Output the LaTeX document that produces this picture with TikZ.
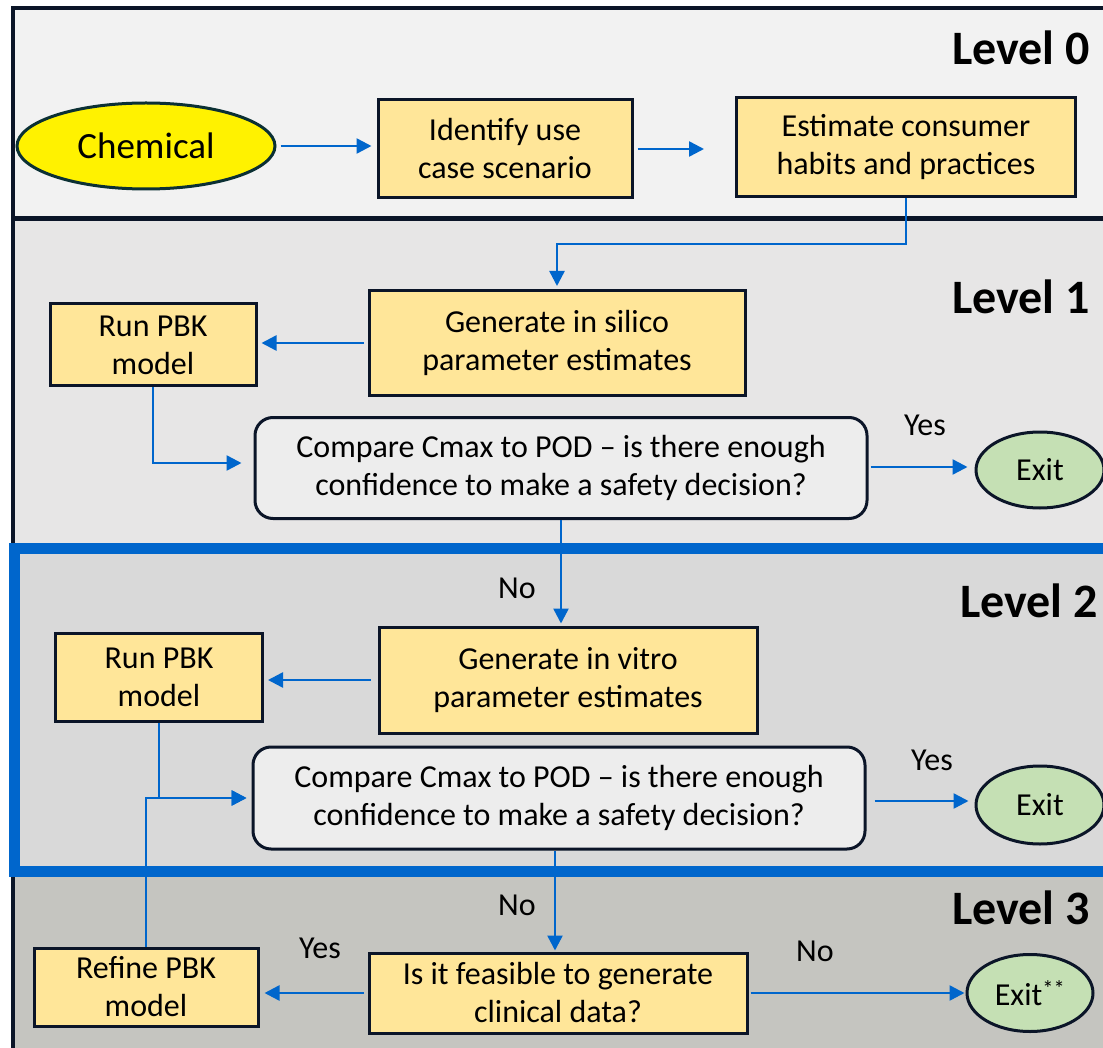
\documentclass[tikz,border=0pt]{standalone}
\usepackage{fontspec}
\setmainfont{Carlito}
\usetikzlibrary{arrows.meta,shapes.geometric}
\definecolor{boxfill}{HTML}{FFE699}
\definecolor{edgecol}{HTML}{0B1528}
\definecolor{flow}{HTML}{0066CC}
\definecolor{bandA}{HTML}{F2F2F2}
\definecolor{bandB}{HTML}{E7E6E6}
\definecolor{bandC}{HTML}{D9D9D9}
\definecolor{bandD}{HTML}{C5C5C0}
\definecolor{cmpfill}{HTML}{EDEDED}
\definecolor{exitfill}{HTML}{C5E0B4}
\definecolor{chemedge}{HTML}{0B3034}
\begin{document}
\begin{tikzpicture}[x=1pt,y=-1pt,
  txt/.style={font=\fontsize{32}{38}\selectfont, text=black},
  box/.style={txt, draw=edgecol, line width=3pt, fill=boxfill, align=center, inner sep=0pt},
  decision/.style={box, fill=cmpfill, rounded corners=18pt},
  exitnode/.style={txt, ellipse, draw=edgecol, line width=3pt, fill=exitfill, inner sep=0pt},
  flowarrow/.style={draw=flow, line width=2.5pt, -{Triangle[length=15pt,width=15pt]}},
  lbl/.style={txt, inner sep=0pt},
  levellbl/.style={font=\fontsize{48}{52}\selectfont\bfseries, anchor=east, inner sep=0pt}
]
\useasboundingbox (0,0) rectangle (1103,1048);
\fill[white] (0,0) rectangle (1103,1048);
% bands
\fill[bandA] (13,8) rectangle (1110,219);
\fill[bandB] (13,219) rectangle (1110,548);
\fill[bandC] (14,548) rectangle (1110,871);
\fill[bandD] (13,871) rectangle (1110,1050);
\draw[edgecol, line width=4pt] (1115,8) -- (13,8) -- (13,1055);
\draw[edgecol, line width=5pt] (11,219) -- (1115,219);
\draw[flow, line width=11pt] (1120,548) -- (14,548) -- (14,871) -- (1120,871);

% level labels
\node[levellbl] (lv0) at (1090,48) {Level 0};
\node[levellbl] (lv1) at (1090,297) {Level 1};
\node[levellbl] (lv2) at (1098,601) {Level 2};
\node[levellbl] (lv3) at (1090,908) {Level 3};

% level 0
\node[txt, ellipse, draw=chemedge, line width=3pt, fill=yellow, inner sep=0pt,
      minimum width=258pt, minimum height=86pt, font=\fontsize{37}{40}\selectfont] (chem) at (146,146) {Chemical};
\node[box, minimum width=254pt, minimum height=98pt] (ident) at (505,149) {Identify use\\case scenario};
\node[box, minimum width=339pt, minimum height=99pt] (est) at (906,147) {Estimate consumer\\habits and practices};

% level 1
\node[box, minimum width=376pt, minimum height=105pt] (gensil) at (557,343) {Generate in silico\\parameter estimates};
\node[box, minimum width=206pt, minimum height=82pt] (run1) at (153,345) {Run PBK\\model};
\node[decision, minimum width=612pt, minimum height=101pt] (cmp1) at (561,468) {Compare Cmax to POD – is there enough\\confidence to make a safety decision?};
\node[exitnode, minimum width=128pt, minimum height=76pt] (exit1) at (1040,470) {Exit};
\node[lbl] (yes1) at (925,425) {Yes};

% level 2
\node[lbl] (no1) at (517,588) {No};
\node[box, minimum width=378pt, minimum height=106pt] (genvit) at (568,680) {Generate in vitro\\parameter estimates};
\node[box, minimum width=207pt, minimum height=88pt] (run2) at (159,677) {Run PBK\\model};
\node[decision, minimum width=612pt, minimum height=102pt] (cmp2) at (559,798) {Compare Cmax to POD – is there enough\\confidence to make a safety decision?};
\node[exitnode, minimum width=128pt, minimum height=78pt] (exit2) at (1040,805) {Exit};
\node[lbl] (yes2) at (932,760) {Yes};

% level 3
\node[lbl] (no2) at (517,905) {No};
\node[box, minimum width=378pt, minimum height=80pt] (feas) at (558,993) {Is it feasible to generate\\clinical data?};
\node[box, minimum width=224pt, minimum height=78pt] (refine) at (146,987) {Refine PBK\\model};
\node[exitnode, minimum width=126pt, minimum height=77pt] (exit3) at (1030,993) {Exit\textsuperscript{**}};
\node[lbl] (yes3) at (320,948) {Yes};
\node[lbl] (no3) at (815,951) {No};

% connectors
\draw[flowarrow, shorten <=4pt, shorten >=5pt] (chem.east) -- (chem.east -| ident.west);
\draw[flowarrow, shorten <=4pt, shorten >=31pt] (ident.east) -- (ident.east -| est.west);
\draw[flowarrow, shorten >=3pt] (est.south) -- ++(0,46) -| (gensil.north);
\draw[flowarrow, shorten <=4pt, shorten >=4pt] (gensil.west) -- (gensil.west -| run1.east);
\draw[flowarrow, shorten >=12pt] (run1.south) |- ([yshift=5pt]cmp1.west);
\draw[flowarrow, shorten <=2pt, shorten >=7pt] ([yshift=1pt]cmp1.east) -- ([yshift=1pt]cmp1.east -| exit1.west);
\draw[flowarrow, shorten >=2pt] (cmp1.south) -- (cmp1.south |- genvit.north);
\draw[flowarrow, shorten <=7pt, shorten >=4pt] (genvit.west) -- (genvit.west -| run2.east);
\draw[flowarrow, shorten >=5pt] (run2.south) |- (cmp2.west);
\draw[flowarrow, shorten >=5pt] (refine.north) |- (cmp2.west);
\draw[flowarrow, shorten <=8pt, shorten >=6pt] ([yshift=-3pt]cmp2.east) -- ([yshift=-3pt]cmp2.east -| exit2.west);
\draw[flowarrow, shorten >=1pt] ([xshift=-4pt]cmp2.south) -- ([xshift=-4pt]cmp2.south |- feas.north);
\draw[flowarrow, shorten <=4pt, shorten >=5pt] (feas.west) -- (feas.west -| refine.east);
\draw[flowarrow, shorten <=2pt, shorten >=1pt] (feas.east) -- (exit3.west);
\end{tikzpicture}
\end{document}
